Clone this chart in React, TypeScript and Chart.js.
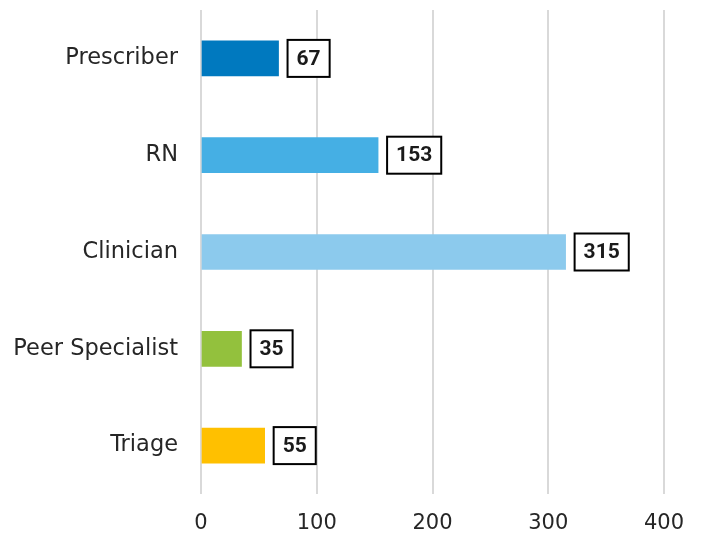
import React, { useEffect, useRef } from "react";
import { Chart, registerables } from "chart.js";

Chart.register(...registerables);

const categories = ["Prescriber", "RN", "Clinician", "Peer Specialist", "Triage"];
const values = [67, 153, 315, 35, 55];
const barColors = ["#0079BF", "#45AFE4", "#8CCAED", "#93C13D", "#FFC000"];
const xTicks = [0, 100, 200, 300, 400];

const boxLabels = {
  id: "boxLabels",
  afterDatasetsDraw(chart: any) {
    const ctx = chart.ctx;
    const meta = chart.getDatasetMeta(0);
    ctx.save();
    ctx.font = "bold 21px Roboto, 'Liberation Sans', sans-serif";
    ctx.textBaseline = "middle";
    ctx.textAlign = "center";
    meta.data.forEach((bar: any, i: number) => {
      const text = String(chart.data.datasets[0].data[i]);
      const tw = ctx.measureText(text).width;
      const w = tw + 18;
      const h = 37;
      const x0 = bar.x + 9;
      const y0 = bar.y - h / 2;
      ctx.fillStyle = "#ffffff";
      ctx.fillRect(x0, y0, w, h);
      ctx.strokeStyle = "#000000";
      ctx.lineWidth = 2;
      ctx.strokeRect(x0, y0, w, h);
      ctx.fillStyle = "#1a1a1a";
      ctx.fillText(text, x0 + w / 2, bar.y + 1);
    });
    ctx.restore();
  },
};

export default function App() {
  const ref = useRef<HTMLCanvasElement>(null);
  useEffect(() => {
    document.body.style.margin = "0";
    const chart = new Chart(ref.current!, {
      type: "bar",
      data: {
        labels: categories,
        datasets: [
          {
            data: values,
            backgroundColor: barColors,
            barThickness: 35,
          },
        ],
      },
      options: {
        indexAxis: "y",
        animation: false,
        responsive: false,
        layout: { padding: { top: 10, right: 38, left: 0, bottom: 0 } },
        plugins: { legend: { display: false }, tooltip: { enabled: false } },
        scales: {
          x: {
            min: 0,
            max: 400,
            afterBuildTicks(scale: any) {
              scale.ticks = xTicks.map((v) => ({ value: v }));
            },
            afterFit(scale: any) {
              scale.height = 48;
              scale.paddingLeft = 0;
              scale.paddingRight = 0;
            },
            grid: { color: "#d9d9d9", lineWidth: 2, drawTicks: false },
            border: { display: false },
            ticks: {
              padding: 17,
              color: "#262626",
              font: { family: "'DejaVu Sans', sans-serif", size: 21 },
            },
          },
          y: {
            afterFit(scale: any) {
              scale.width = 201;
              scale.paddingTop = 0;
              scale.paddingBottom = 0;
            },
            grid: { display: false, drawTicks: false },
            border: { display: false },
            ticks: {
              padding: 23,
              color: "#262626",
              font: { family: "'DejaVu Sans', sans-serif", size: 22.5 },
            },
          },
        },
      },
      plugins: [boxLabels],
    });
    return () => chart.destroy();
  }, []);
  return <canvas ref={ref} width={702} height={542} style={{ display: "block" }} />;
}
